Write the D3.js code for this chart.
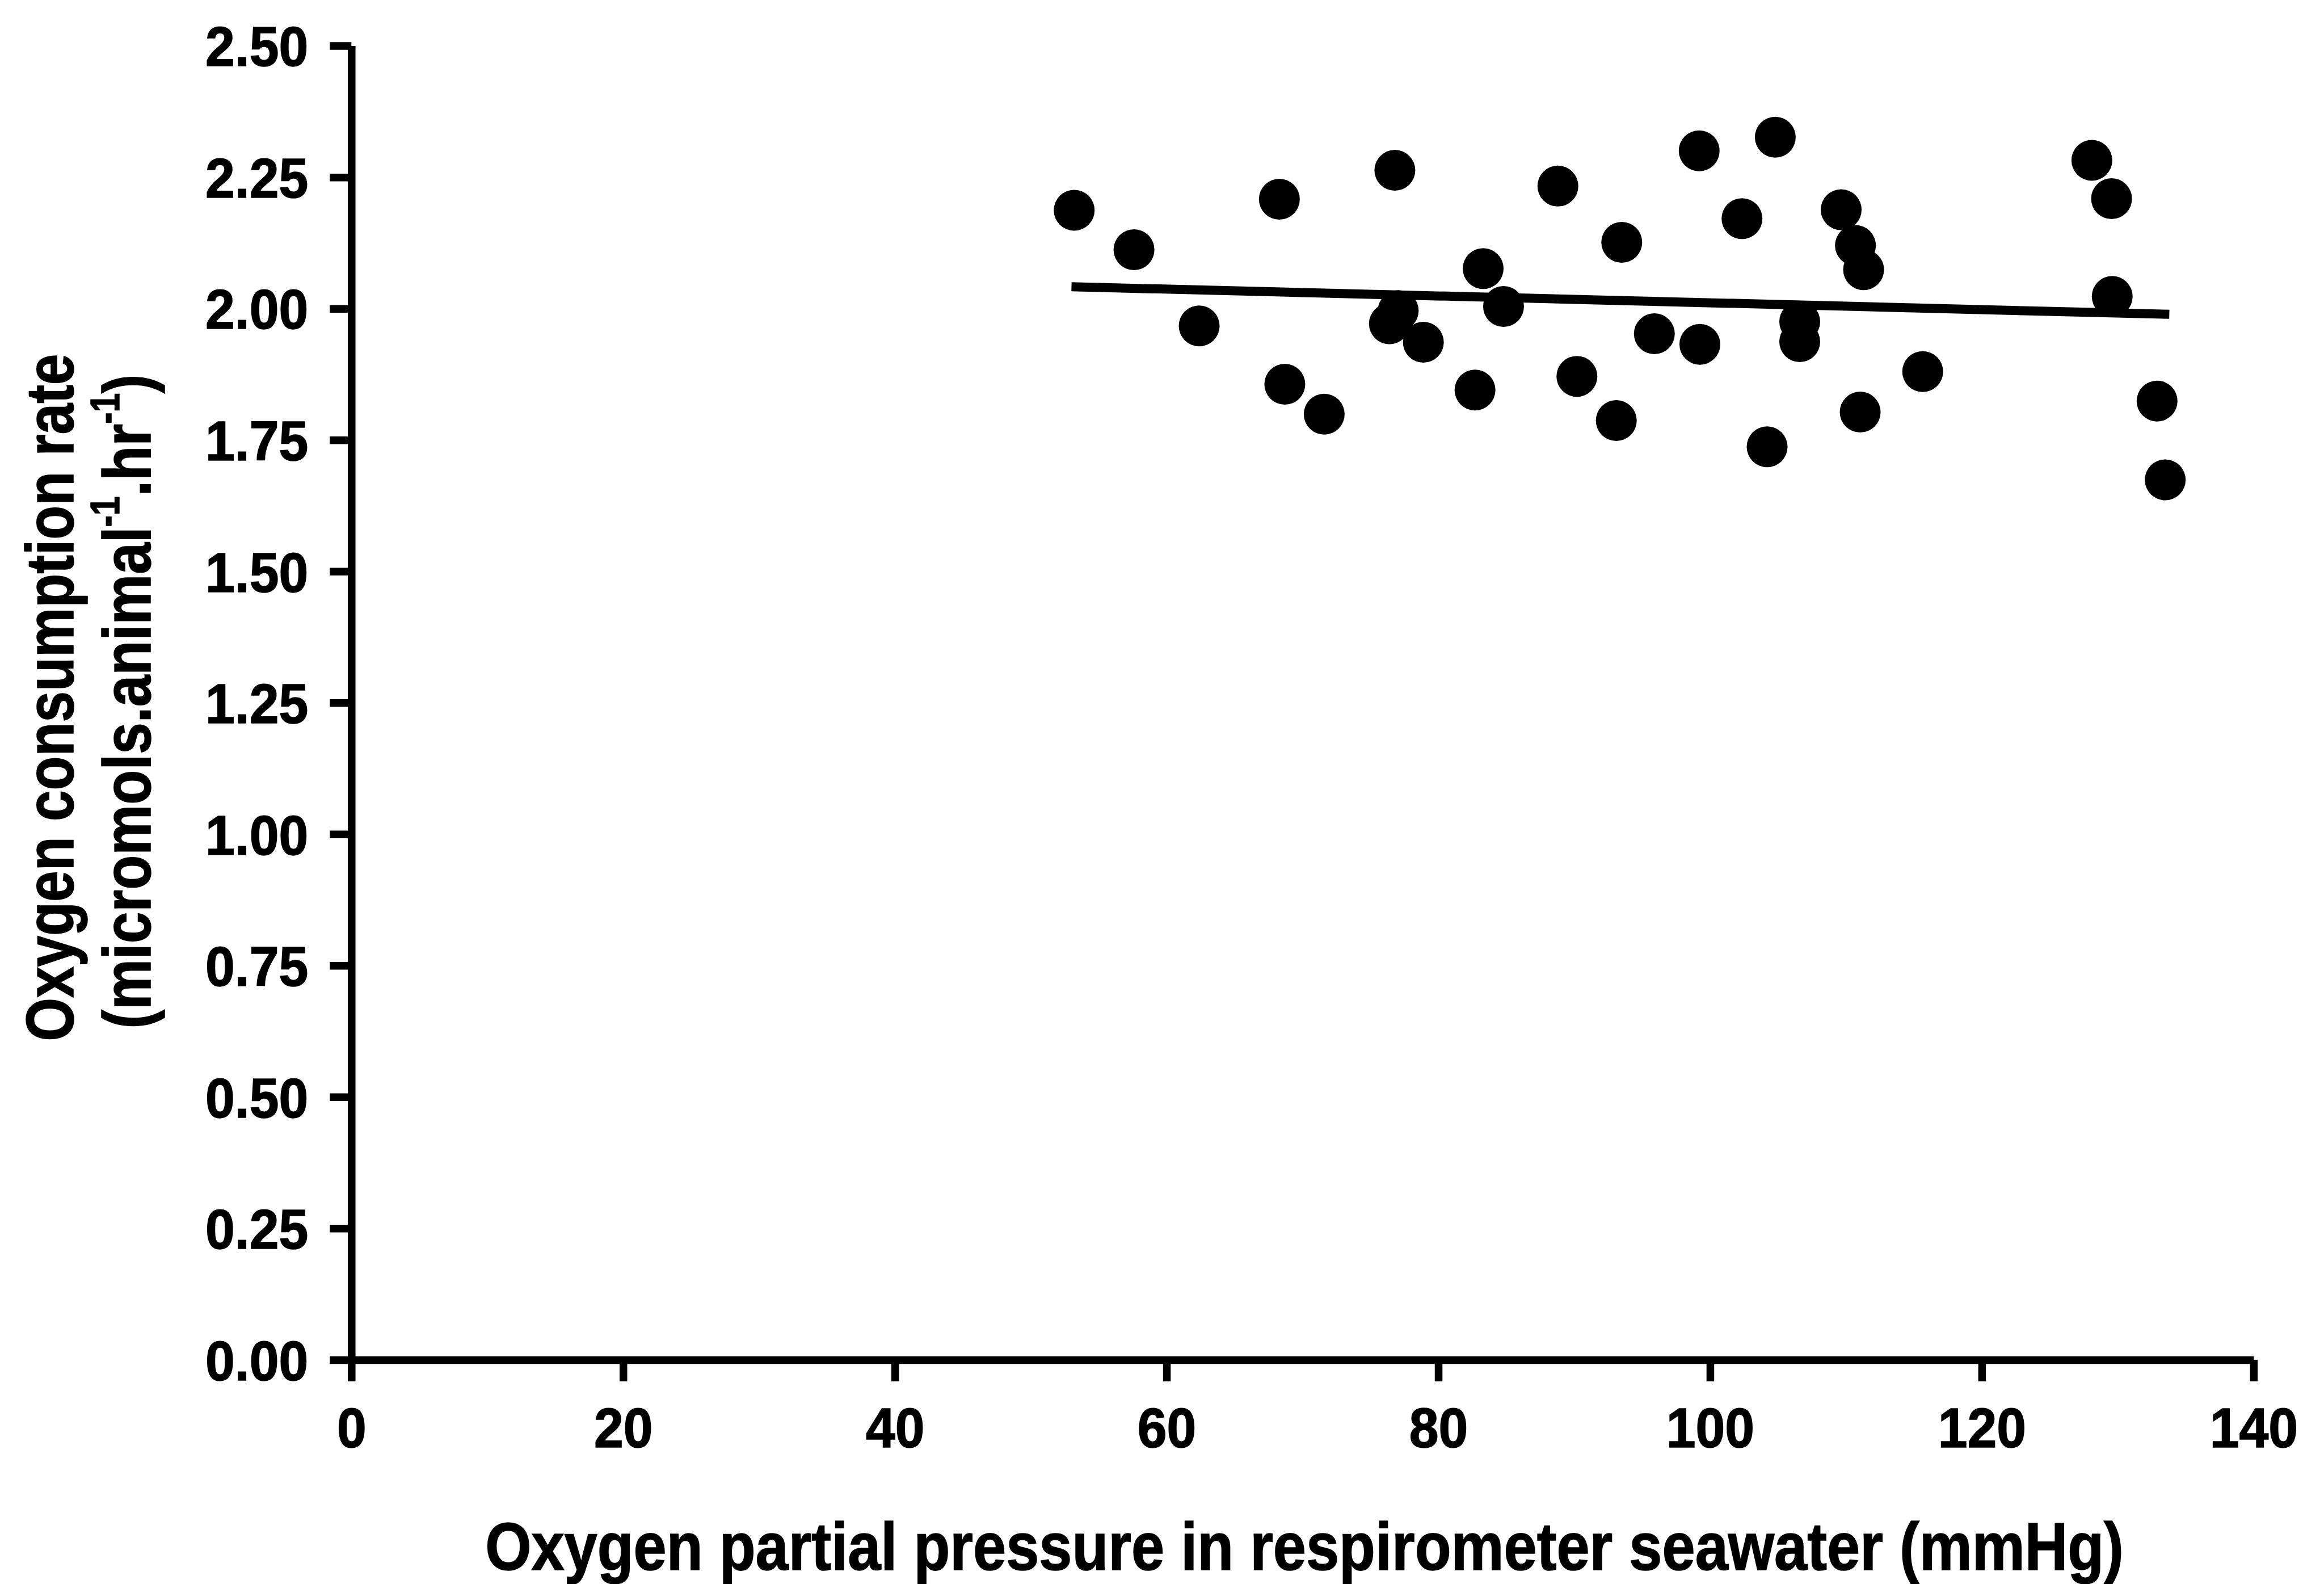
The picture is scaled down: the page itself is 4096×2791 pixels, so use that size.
<!DOCTYPE html>
<html>
<head>
<meta charset="utf-8">
<script src="https://cdn.jsdelivr.net/npm/d3@7"></script>
<style>
  html, body { margin: 0; padding: 0; background: #fff; }
  svg { display: block; }
</style>
</head>
<body>
<svg id="chart" width="4096" height="2791"></svg>
<script>
// Oxygen partial pressure (mmHg) of each respirometer run
const oxygenPressure = [
  53.2, 57.6, 62.4, 68.3, 68.7, 71.6, 76.8, 76.4, 77.05, 78.9,
  82.7, 83.3, 84.8, 88.8, 90.2, 93.1, 93.5, 95.9, 99.2, 99.25,
  102.35, 104.2, 104.8, 106.6, 106.6, 109.65, 110.7, 111.3, 111.05, 115.65,
  128.1, 129.55, 129.6, 132.9, 133.5
];
// Oxygen consumption rate (micromols per animal per hour) of the same runs
const consumptionRate = [
  2.187, 2.112, 1.967, 2.208, 1.856, 1.799, 2.263, 1.971, 1.996, 1.936,
  1.845, 2.076, 2.004, 2.233, 1.871, 1.787, 2.126, 1.952, 2.300, 1.932,
  2.171, 1.737, 2.326, 1.975, 1.937, 2.188, 2.120, 2.074, 1.803, 1.880,
  2.282, 2.209, 2.023, 1.824, 1.674
];
// Fitted regression line: end points
const trendPressure = [53.0, 133.8];
const trendRate = [2.0415, 1.9890];

const xTickValues = [0, 20, 40, 60, 80, 100, 120, 140];
const yTickValues = [0, 0.25, 0.5, 0.75, 1.0, 1.25, 1.5, 1.75, 2.0, 2.25, 2.5];

const xTitle = "Oxygen partial pressure in respirometer seawater (mmHg)";
const yTitleLine1 = "Oxygen consumption rate";

// ---- layout ----
const plotLeft = 619.3, plotRight = 3971.8, plotTop = 80.6, plotBottom = 2395.9;
const font = "'Liberation Sans', Arial, Helvetica, sans-serif";
const axisStroke = 13.5;
const tickLen = 38;
const tickFont = 98;
const titleFont = 119;
const textWeight = 1.6; // extra outline to thicken the bold glyphs

const svg = d3.select("#chart");

const x = d3.scaleLinear().domain([0, 140]).range([plotLeft, plotRight]);
const y = d3.scaleLinear().domain([0, 2.5]).range([plotBottom, plotTop]);

// squeeze text horizontally (narrow bold sans look)
function squeeze(sel, factor) {
  sel.each(function () {
    const w = this.getComputedTextLength();
    d3.select(this).attr("textLength", w * factor).attr("lengthAdjust", "spacingAndGlyphs");
  });
}

// ---- x axis ----
const gx = svg.append("g")
  .attr("transform", `translate(0,${plotBottom})`)
  .call(d3.axisBottom(x).tickValues(xTickValues).tickSize(tickLen).tickSizeOuter(0)
        .tickFormat(d3.format("d")));
gx.attr("font-family", font).attr("font-size", tickFont).attr("font-weight", "bold");
gx.select(".domain").attr("stroke", "#000").attr("stroke-width", axisStroke);
gx.selectAll(".tick line").attr("stroke", "#000").attr("stroke-width", axisStroke);
gx.selectAll(".tick text").attr("fill", "#000").attr("stroke", "#000").attr("stroke-width", textWeight)
  .attr("y", 154).attr("dy", null);
squeeze(gx.selectAll(".tick text"), 0.95);

// ---- y axis ----
const gy = svg.append("g")
  .attr("transform", `translate(${plotLeft},0)`)
  .call(d3.axisLeft(y).tickValues(yTickValues).tickSize(tickLen).tickSizeOuter(0)
        .tickFormat(d3.format(".2f")));
gy.attr("font-family", font).attr("font-size", tickFont).attr("font-weight", "bold");
gy.select(".domain").attr("stroke", "#000").attr("stroke-width", axisStroke);
gy.selectAll(".tick line").attr("stroke", "#000").attr("stroke-width", axisStroke);
gy.selectAll(".tick text").attr("fill", "#000").attr("stroke", "#000").attr("stroke-width", textWeight)
  .attr("x", -76).attr("dy", "0.36em");
squeeze(gy.selectAll(".tick text"), 0.95);

// ---- regression line ----
const trend = trendPressure.map((p, i) => [p, trendRate[i]]);
svg.append("path")
  .datum(trend)
  .attr("fill", "none")
  .attr("stroke", "#000")
  .attr("stroke-width", 16)
  .attr("d", d3.line().x(d => x(d[0])).y(d => y(d[1])));

// ---- data points ----
svg.append("g")
  .selectAll("circle")
  .data(oxygenPressure.map((p, i) => ({ p, r: consumptionRate[i] })))
  .join("circle")
  .attr("cx", d => x(d.p))
  .attr("cy", d => y(d.r))
  .attr("r", 36)
  .attr("fill", "#000");

// ---- axis titles ----
function fitWidth(textSel, target, baseTransform) {
  const w = textSel.node().getComputedTextLength();
  textSel.attr("transform", `${baseTransform} scale(${target / w},1)`);
}

function titleText() {
  return svg.append("text")
    .attr("font-family", font).attr("font-size", titleFont).attr("font-weight", "bold")
    .attr("text-anchor", "middle").attr("fill", "#000")
    .attr("stroke", "#000").attr("stroke-width", textWeight);
}

const xt = titleText().text(xTitle);
fitWidth(xt, 2888, "translate(2299,2766)");

const yt1 = titleText().text(yTitleLine1);
fitWidth(yt1, 1211, "translate(129,1229) rotate(-90)");

const yt2 = titleText();
const supSize = 72, supRaise = 55;
yt2.append("tspan").text("(micromols.animal");
yt2.append("tspan").attr("font-size", supSize).attr("dy", -supRaise).text("-1");
yt2.append("tspan").attr("dy", supRaise).text(".hr");
yt2.append("tspan").attr("font-size", supSize).attr("dy", -supRaise).text("-1");
yt2.append("tspan").attr("dy", supRaise).text(")");
fitWidth(yt2, 1153, "translate(265,1236) rotate(-90)");
</script>
</body>
</html>
